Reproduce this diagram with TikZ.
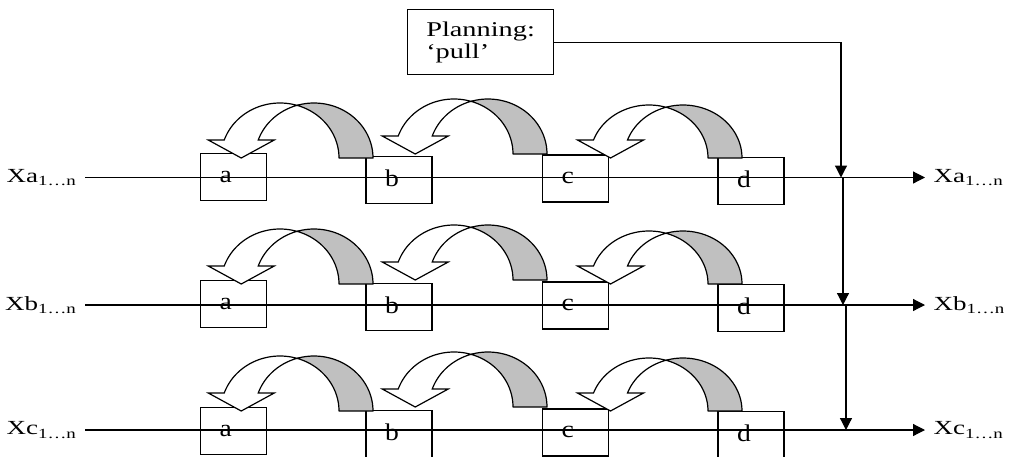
\documentclass[tikz,border=0pt]{standalone}
\usepackage{fontspec}
\setmainfont{Liberation Serif}[FakeStretch=1.35]
\newfontfamily\boxletterfont{Liberation Serif}[FakeStretch=1.15]
\usetikzlibrary{arrows.meta}
\definecolor{ribbongray}{RGB}{192,192,192}

\tikzset{
  tip/.style={-{Triangle[length=12pt,width=12pt]}},
  stage/.style={draw, minimum width=66pt, minimum height=47pt, inner sep=0pt,
    font=\boxletterfont\fontsize{24}{26}\selectfont},
  flowlabel/.style={inner xsep=8pt, inner ysep=0pt, font=\fontsize{20}{22}\selectfont},
  planbox/.style={draw, minimum width=146pt, minimum height=65pt, align=left,
    inner xsep=0pt, font=\fontsize{21}{22}\selectfont},
  ribbonback/.style={draw, fill=ribbongray, line join=round},
  ribbonfront/.style={draw, fill=white, line join=miter},
}

% box letter, set toward the left of its box and raised onto the flow line
\newcommand{\stageletter}[2]{\raisebox{#2}{\makebox[28pt][l]{#1}}}

% curved "move back" ribbon arrow:
% #1 = x of the left ellipse centre, #2 = base y, #3 = arc height
\newcommand{\ribbonarrow}[3]{%
  \pgfmathsetmacro\rbA{59}%
  \pgfmathsetmacro\rbW{34}%
  \pgfmathsetmacro\rbT{-180+asin(18/#3)}%
  \pgfmathsetmacro\rbC{acos(\rbW/(2*\rbA))}%
  \pgfmathsetmacro\rbK{cos(\rbT)}%
  \draw[ribbonback]
    plot[domain={-180+\rbC}:0, samples=40, smooth] ({#1+\rbW+\rbA*cos(\x)},{#2+#3*sin(\x)})
    -- ({#1+\rbA},{#2})
    -- plot[domain=0:{-\rbC}, samples=40, smooth] ({#1+\rbA*cos(\x)},{#2+#3*sin(\x)})
    -- cycle;
  \draw[ribbonfront]
    plot[domain=\rbT:{-\rbC}, samples=40, smooth] ({#1+\rbA*cos(\x)},{#2+#3*sin(\x)})
    -- plot[domain={-180+\rbC}:\rbT, samples=40, smooth] ({#1+\rbW+\rbA*cos(\x)},{#2+#3*sin(\x)})
    -- ({#1+\rbW+\rbA*\rbK+16},{#2-18})
    -- ({#1+\rbW/2+\rbA*\rbK},{#2})
    -- ({#1+\rbA*\rbK-16},{#2-18})
    -- cycle;
}

\begin{document}
\begin{tikzpicture}[x=1pt, y=-1pt, line width=1.2pt]
\useasboundingbox (0,0) rectangle (1013,456);

% planning box
\node[planbox, anchor=north west] (plan) at (407,9) {Planning:\\‘pull’};

% three product rows
\foreach \row/\lineY/\boxdy/\arrdy in {a/177.5/0/0, b/305/127/126, c/430/254/253} {
  \node[stage] (a\row) at (233.5,{177+\boxdy}) {\stageletter{a}{0pt}};
  \node[stage] (b\row) at (399,{180+\boxdy}) {\stageletter{b}{3pt}};
  \node[stage] (c\row) at (575.5,{178.5+\boxdy}) {\stageletter{c}{1pt}};
  \node[stage] (d\row) at (751,{181+\boxdy}) {\stageletter{d}{4pt}};
  \node[flowlabel, anchor=east] (in\row) at (85,\lineY) {X\row\textsubscript{1…n}};
  \node[flowlabel, anchor=west] (out\row) at (925,\lineY) {X\row\textsubscript{1…n}};
  \draw[tip] (in\row.east) -- (out\row.west);
  \ribbonarrow{280}{158+\arrdy}{55}
  \ribbonarrow{454}{154+\arrdy}{55}
  \ribbonarrow{649}{158+\arrdy}{53}
}

% pull signal passed down the rows
\coordinate (j1) at (841,177.5);
\coordinate (s2) at (843,177.5);
\coordinate (j2) at (843,305);
\coordinate (s3) at (846,305);
\coordinate (j3) at (846,430);
\draw[tip] (plan.east) -| (j1);
\draw[tip] (s2) -- (j2);
\draw[tip] (s3) -- (j3);
\end{tikzpicture}
\end{document}
